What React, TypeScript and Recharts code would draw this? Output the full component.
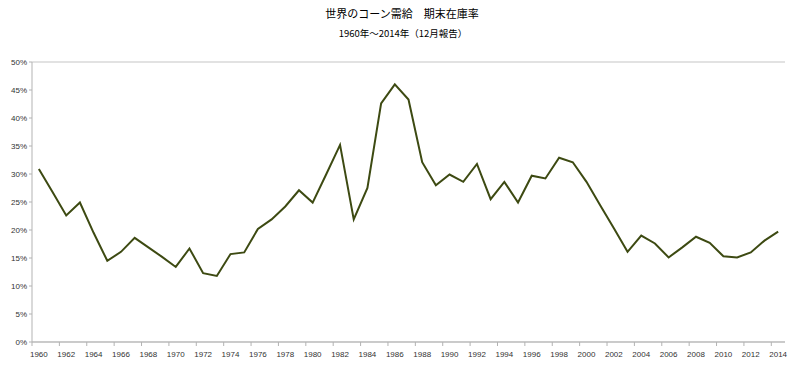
import React from 'react';
import { LineChart, Line, XAxis, YAxis, CartesianGrid } from 'recharts';

const YEARS = [
  '1960', '1961', '1962', '1963', '1964', '1965', '1966', '1967', '1968', '1969',
  '1970', '1971', '1972', '1973', '1974', '1975', '1976', '1977', '1978', '1979',
  '1980', '1981', '1982', '1983', '1984', '1985', '1986', '1987', '1988', '1989',
  '1990', '1991', '1992', '1993', '1994', '1995', '1996', '1997', '1998', '1999',
  '2000', '2001', '2002', '2003', '2004', '2005', '2006', '2007', '2008', '2009',
  '2010', '2011', '2012', '2013', '2014',
];

// 期末在庫率 (%)
const STOCK_RATIO = [
  30.9, 26.8, 22.6, 24.9, 19.5, 14.5, 16.1, 18.6, 16.9, 15.2,
  13.4, 16.7, 12.3, 11.8, 15.7, 16.0, 20.2, 21.9, 24.2, 27.1,
  24.9, 30.0, 35.2, 21.9, 27.5, 42.6, 46.0, 43.3, 32.1, 28.0,
  29.9, 28.6, 31.8, 25.5, 28.6, 24.9, 29.7, 29.2, 32.9, 32.1,
  28.6, 24.4, 20.3, 16.1, 19.0, 17.6, 15.1, 16.9, 18.8, 17.7,
  15.3, 15.1, 16.0, 18.1, 19.7,
];

const Y_TICKS = [0, 5, 10, 15, 20, 25, 30, 35, 40, 45, 50];

const TITLE = '世界のコーン需給　期末在庫率';
const SUBTITLE = '1960年～2014年（12月報告）';

const data = YEARS.map((year, i) => ({ year, ratio: STOCK_RATIO[i] }));

const FONT = '"Liberation Sans", Arial, sans-serif';

// label centred on the category, tick mark on the left edge of the band
const YearTick = (props: any) => {
  const { x, y, payload } = props;
  const half = payload && payload.offset ? payload.offset : 753 / 55 / 2;
  return (
    <g>
      <line x1={x - half} x2={x - half} y1={y - 9} y2={y - 5} stroke="#b3b3b3" />
      <text x={x} y={y} dy="0.71em" textAnchor="middle" fontSize={8} fill="#333" fontFamily={FONT}>
        {payload.value}
      </text>
    </g>
  );
};

export default function App() {
  return (
    <div style={{ position: 'absolute', left: 0, top: 0, width: 800, height: 368, background: '#fff' }}>
      <div
        style={{
          position: 'absolute', left: 0, width: 804, top: 5, textAlign: 'center',
          fontSize: 11, fontFamily: '"Noto Sans CJK JP", sans-serif', color: '#000', lineHeight: '16px',
        }}
      >
        {TITLE}
      </div>
      <div
        style={{
          position: 'absolute', left: 0, width: 806, top: 26, textAlign: 'center',
          fontSize: 9.5, fontFamily: '"Noto Sans CJK JP", sans-serif', color: '#000', lineHeight: '14px',
        }}
      >
        {SUBTITLE}
      </div>
      <LineChart width={800} height={368} data={data} margin={{ top: 62, right: 15, bottom: 6, left: 0 }}>
        <CartesianGrid vertical={false} stroke="#d9d9d9" strokeWidth={1.3} />
        <XAxis
          dataKey="year"
          scale="band"
          interval={1}
          tickLine={false}
          tickSize={4}
          tickMargin={5}
          height={20}
          axisLine={{ stroke: '#b3b3b3' }}
          tick={<YearTick />}
        />
        <YAxis
          yAxisId="left"
          domain={[0, 50]}
          ticks={Y_TICKS}
          width={32}
          tickSize={3}
          tickMargin={2}
          tickLine={{ stroke: '#b3b3b3' }}
          axisLine={{ stroke: '#b3b3b3' }}
          tickFormatter={(v: number) => `${v}%`}
          tick={{ fontSize: 8, fill: '#333', fontFamily: FONT }}
        />
        <YAxis
          yAxisId="right"
          orientation="right"
          domain={[0, 50]}
          ticks={Y_TICKS}
          width={0}
          tick={false}
          tickLine={false}
          axisLine={{ stroke: '#d9d9d9' }}
        />
        <Line
          yAxisId="left"
          type="linear"
          dataKey="ratio"
          stroke="#3d4a12"
          strokeWidth={2}
          dot={false}
          isAnimationActive={false}
        />
      </LineChart>
    </div>
  );
}
